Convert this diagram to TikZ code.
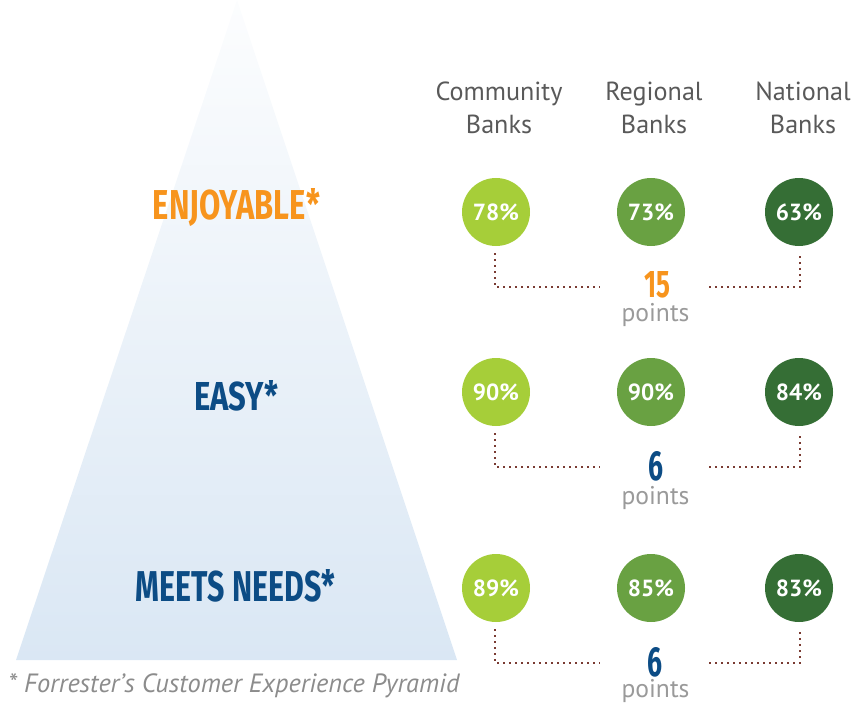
\documentclass[tikz,border=0pt]{standalone}
\usepackage{fontspec}
\setmainfont{PT Sans}
\newfontfamily\condf{Fira Sans}
\usetikzlibrary{calc}
\definecolor{pyrtop}{HTML}{FCFDFE}
\definecolor{pyrbot}{HTML}{DAE7F4}
\definecolor{orangec}{HTML}{F7941D}
\definecolor{navyc}{HTML}{0C4C85}
\definecolor{gA}{HTML}{A6CE39}
\definecolor{gB}{HTML}{69A142}
\definecolor{gC}{HTML}{356E35}
\definecolor{headc}{HTML}{595959}
\definecolor{ptsc}{HTML}{9A9A9A}
\definecolor{dotc}{HTML}{7A3B32}
\definecolor{footc}{HTML}{8C8C8C}
\newcommand\condtxt[3]{\resizebox{#1}{#2}{\condf\bfseries #3}}
\tikzset{
  pct/.style={circle, minimum size=51pt, inner sep=0pt, text=white,
    font=\bfseries\fontsize{17.5}{18}\selectfont},
  head/.style={text=headc, font=\fontsize{19.6}{22}\selectfont, inner sep=0pt, anchor=base},
  pts/.style={text=ptsc, font=\fontsize{19.2}{22}\selectfont, inner sep=0pt, anchor=base},
  lvl/.style={inner sep=0pt},
  dotline/.style={draw=dotc, line width=1.5pt, dash pattern=on 1.5pt off 3pt},
}
\begin{document}
\begin{tikzpicture}[x=0.75pt,y=-0.75pt]
\useasboundingbox (0,0) rectangle (855,702);
% pyramid
\shade[top color=pyrtop, bottom color=pyrbot] (237,0) -- (457,660) -- (16,660) -- cycle;
% level labels
\node[lvl, text=orangec] (enj) at (236.5,207.5) {\condtxt{125.25pt}{23.25pt}{ENJOYABLE*}};
\node[lvl, text=navyc] (easy) at (236,395.5) {\condtxt{63pt}{22.5pt}{EASY*}};
\node[lvl, text=navyc] (meets) at (235.5,585.5) {\condtxt{149.25pt}{24pt}{MEETS NEEDS*}};
% headers
\node[head] (h1a) at (499,101) {Community};
\node[head] (h1b) at (499,134) {Banks};
\node[head] (h2a) at (654,101) {Regional};
\node[head] (h2b) at (654,134) {Banks};
\node[head] (h3a) at (803,101) {National};
\node[head] (h3b) at (803,134) {Banks};
% circles
\node[pct, fill=gA] (c11) at (496,212) {78\%};
\node[pct, fill=gB] (c12) at (651,212) {73\%};
\node[pct, fill=gC] (c13) at (799,212) {63\%};
\node[pct, fill=gA] (c21) at (496,392) {90\%};
\node[pct, fill=gB] (c22) at (651,392) {90\%};
\node[pct, fill=gC] (c23) at (799,392) {84\%};
\node[pct, fill=gA] (c31) at (496,588) {89\%};
\node[pct, fill=gB] (c32) at (651,588) {85\%};
\node[pct, fill=gC] (c33) at (799,588) {83\%};
% differences
\node[lvl, text=orangec] (d1) at (657,285) {\condtxt{19.5pt}{19.5pt}{15}};
\node[pts] (p1) at (655.5,321) {points};
\node[lvl, text=navyc] (d2) at (655.5,466) {\condtxt{11.25pt}{21.75pt}{6}};
\node[pts] (p2) at (655.5,504) {points};
\node[lvl, text=navyc] (d3) at (655,662) {\condtxt{11.25pt}{21.75pt}{6}};
\node[pts] (p3) at (655.5,697) {points};
% connector end points
\coordinate (l1) at (600,287);
\coordinate (r1) at (709,287);
\coordinate (l2) at (600,467);
\coordinate (r2) at (709,467);
\coordinate (l3) at (600,663);
\coordinate (r3) at (709,663);
\draw[dotline] ($(c11.south)+(-1,7)$) |- (l1);
\draw[dotline] (r1) -| ($(c13.south)+(1,10)$);
\draw[dotline] ($(c21.south)+(-1,7)$) |- (l2);
\draw[dotline] (r2) -| ($(c23.south)+(1,10)$);
\draw[dotline] ($(c31.south)+(-1,7)$) |- (l3);
\draw[dotline] (r3) -| ($(c33.south)+(1,10)$);
% footnote
\node[text=footc, font=\itshape\fontsize{19.8}{22}\selectfont, inner sep=0pt, anchor=base west] (foot) at (8,692) {* Forrester’s Customer Experience Pyramid};
\end{tikzpicture}
\end{document}
